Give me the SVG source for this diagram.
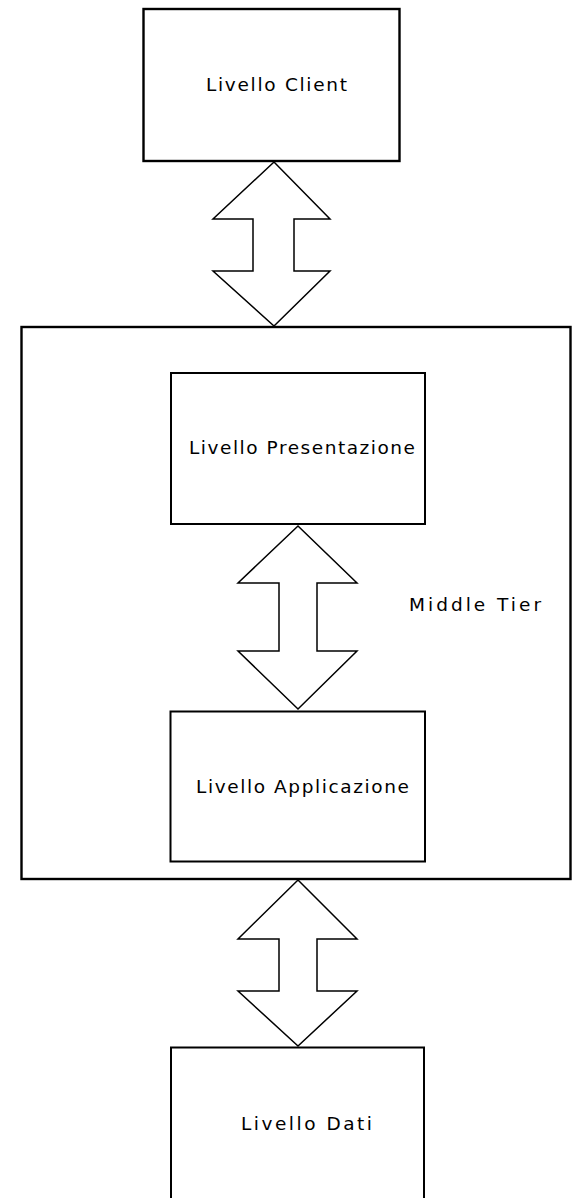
<svg xmlns="http://www.w3.org/2000/svg" width="572" height="1198" viewBox="0 0 572 1198">
  <style>
    .box { fill: none; stroke: #000; stroke-width: 2; }
    .tier { fill: #fff; stroke: #000; stroke-width: 2.4; }
    .label { font-family: "DejaVu Sans", Verdana, sans-serif; font-size: 18.5px; fill: #000; }
    .dblarrow { fill: #fff; stroke: #000; stroke-width: 1.5; stroke-linejoin: miter; }
  </style>
  <rect x="0" y="0" width="572" height="1198" fill="#fff"/>

  <g id="middle-tier">
    <rect class="tier" x="21.5" y="327" width="549" height="552"/>
    <text class="label" x="409" y="611" textLength="132" lengthAdjust="spacing">Middle Tier</text>
  </g>

  <g id="livello-client">
    <rect class="tier" x="143.5" y="9" width="256" height="152"/>
    <text class="label" x="206" y="91" textLength="141" lengthAdjust="spacing">Livello Client</text>
  </g>

  <g id="livello-presentazione">
    <rect class="box" x="171" y="373" width="254" height="151"/>
    <text class="label" x="189" y="454" textLength="226" lengthAdjust="spacing">Livello Presentazione</text>
  </g>

  <g id="livello-applicazione">
    <rect class="box" x="170.5" y="711.5" width="254.5" height="150"/>
    <text class="label" x="196" y="793" textLength="213" lengthAdjust="spacing">Livello Applicazione</text>
  </g>

  <g id="livello-dati">
    <rect class="box" x="171" y="1047.5" width="253" height="200"/>
    <text class="label" x="241" y="1130" textLength="131" lengthAdjust="spacing">Livello Dati</text>
  </g>

  <g id="connectors">
    <polygon class="dblarrow" points="274,162 330,219 294,219 294,271 330,271 274,326 213,271 253,271 253,219 213,219"/>
    <polygon class="dblarrow" points="298,526 357,583 317,583 317,651 357,651 298,709 238,651 279,651 279,583 238,583"/>
    <polygon class="dblarrow" points="298,880 357,939 317,939 317,991 357,991 298,1046 238,991 279,991 279,939 238,939"/>
  </g>
</svg>
